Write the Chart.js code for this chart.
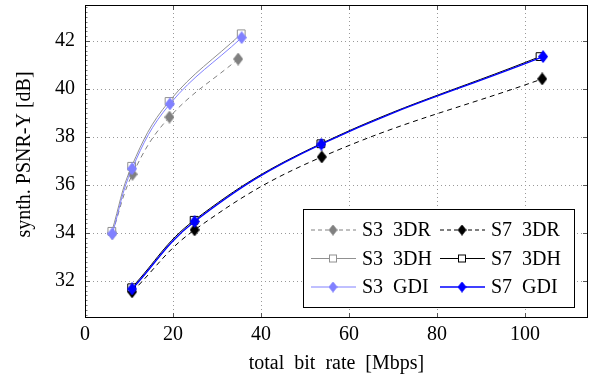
<!DOCTYPE html>
<html>
<head>
<meta charset="utf-8">
<script src="https://cdn.jsdelivr.net/npm/chart.js@4/dist/chart.umd.min.js"></script>
<style>
  html, body { margin: 0; padding: 0; background: #fff; }
  #wrap { width: 590px; height: 382px; }
</style>
</head>
<body>
<div id="wrap"><canvas id="chart"></canvas></div>
<script>
// values: bit rate (Mbps) and synthesized PSNR-Y (dB)
const s3Rate3DR = [6.2, 10.8, 19.2, 34.8];
const s3Psnr3DR = [34.0, 36.45, 38.83, 41.25];
const s3Rate3DH = [6.1, 10.6, 19.1, 35.5];
const s3Psnr3DH = [34.07, 36.78, 39.48, 42.3];
const s3RateGDI = [6.2, 10.7, 19.3, 35.6];
const s3PsnrGDI = [33.97, 36.68, 39.38, 42.14];
const s7Rate3DR = [10.7, 24.9, 53.8, 103.9];
const s7Psnr3DR = [31.55, 34.13, 37.17, 40.42];
const s7Rate3DH = [10.6, 24.8, 53.6, 103.4];
const s7Psnr3DH = [31.72, 34.53, 37.72, 41.35];
const s7RateGDI = [10.7, 24.9, 53.7, 104.1];
const s7PsnrGDI = [31.67, 34.48, 37.7, 41.35];

const xTicks = [0, 20, 40, 60, 80, 100];
const yTicks = [32, 34, 36, 38, 40, 42];

const serif = "'Liberation Serif', 'DejaVu Serif', serif";

function diamond(color, w, h) {
    const c = document.createElement("canvas");
    c.width = w;
    c.height = h;
    const g = c.getContext("2d");
    g.beginPath();
    g.moveTo(w / 2, 0);
    g.lineTo(w, h / 2);
    g.lineTo(w / 2, h);
    g.lineTo(0, h / 2);
    g.closePath();
    g.fillStyle = color;
    g.fill();
    return c;
}

function pts(xs, ys) {
    return xs.map((x, i) => ({ x: x, y: ys[i] }));
}

const series = [
    { label: "S3\u20023DR", xs: s3Rate3DR, ys: s3Psnr3DR, color: "#808080", dash: [5, 4], marker: "diamond", width: 1 },
    { label: "S7\u20023DR", xs: s7Rate3DR, ys: s7Psnr3DR, color: "#000000", dash: [5, 4], marker: "diamond", width: 1 },
    { label: "S3\u20023DH", xs: s3Rate3DH, ys: s3Psnr3DH, color: "#909090", dash: [], marker: "square", width: 1 },
    { label: "S7\u20023DH", xs: s7Rate3DH, ys: s7Psnr3DH, color: "#000000", dash: [], marker: "square", width: 1 },
    { label: "S3\u2002GDI", xs: s3RateGDI, ys: s3PsnrGDI, color: "#8080ff", dash: [], marker: "diamond", width: 1 },
    { label: "S7\u2002GDI", xs: s7RateGDI, ys: s7PsnrGDI, color: "#0000ff", dash: [], marker: "diamond", width: 1.4 },
];

const datasets = series.map((s, i) => {
    const ds = {
        label: s.label,
        data: pts(s.xs, s.ys),
        borderColor: s.color,
        borderWidth: s.width,
        borderDash: s.dash,
        tension: 0.4,
        fill: false,
        order: series.length - i,
    };
    if (s.marker === "diamond") {
        s.img = diamond(s.color, 10, 13);
        ds.pointStyle = s.img;
        ds.pointRadius = 6;
    } else {
        ds.pointStyle = "rect";
        ds.pointRadius = 5.5;
        ds.pointBackgroundColor = "#ffffff";
        ds.pointBorderColor = s.color;
        ds.pointBorderWidth = 1;
    }
    return ds;
});

// frame, inner tick marks and the boxed legend, pgfplots style
const framePlugin = {
    id: "frame",
    afterDatasetsDraw(chart) {
        const ctx = chart.ctx;
        const a = chart.chartArea;
        const xs = chart.scales.x;
        const ys = chart.scales.y;
        ctx.save();
        ctx.strokeStyle = "#777";
        ctx.lineWidth = 1;
        ctx.beginPath();
        for (let v = 30.6; v < ys.max; v += 0.2) {
            const py = Math.round(ys.getPixelForValue(v)) + 0.5;
            ctx.moveTo(a.left, py); ctx.lineTo(a.left + 2.5, py);
        }
        ctx.stroke();
        ctx.strokeStyle = "#555";
        ctx.beginPath();
        xTicks.forEach(v => {
            const px = Math.round(xs.getPixelForValue(v)) + 0.5;
            ctx.moveTo(px, a.bottom); ctx.lineTo(px, a.bottom - 5);
            ctx.moveTo(px, a.top); ctx.lineTo(px, a.top + 5);
        });
        yTicks.forEach(v => {
            const py = Math.round(ys.getPixelForValue(v)) + 0.5;
            ctx.moveTo(a.left, py); ctx.lineTo(a.left + 5, py);
            ctx.moveTo(a.right, py); ctx.lineTo(a.right - 5, py);
        });
        ctx.stroke();

        // legend box
        const bx = a.right - 285, by = a.bottom - 109, bw = 271, bh = 98;
        ctx.fillStyle = "#fff";
        ctx.fillRect(bx, by, bw, bh);
        ctx.strokeStyle = "#000";
        ctx.strokeRect(bx + 0.5, by + 0.5, bw, bh);
        ctx.font = "20px " + serif;
        ctx.textBaseline = "middle";
        series.forEach((s, i) => {
            const col = i % 2, row = Math.floor(i / 2);
            const lx = bx + 8 + col * 129;
            const ly = by + 21 + row * 28.5;
            ctx.strokeStyle = s.color;
            ctx.lineWidth = s.width;
            ctx.setLineDash(s.dash.length ? [4, 3] : []);
            ctx.beginPath();
            ctx.moveTo(lx, ly); ctx.lineTo(lx + 45, ly);
            ctx.stroke();
            ctx.setLineDash([]);
            const mx = lx + 22;
            if (s.marker === "diamond") {
                ctx.drawImage(s.img, mx - 4.5, ly - 5.5, 9, 11);
            } else {
                ctx.fillStyle = "#fff";
                ctx.fillRect(mx - 4, ly - 4, 8, 8);
                ctx.lineWidth = 1;
                ctx.strokeRect(mx - 3.5, ly - 3.5, 7, 7);
            }
            ctx.fillStyle = "#000";
            ctx.fillText(s.label, lx + 51, ly + 1);
        });

        ctx.strokeStyle = "#000";
        ctx.lineWidth = 1;
        ctx.strokeRect(a.left + 0.5, a.top + 0.5, a.right - a.left - 1, a.bottom - a.top - 1);
        ctx.restore();
    },
};

new Chart(document.getElementById("chart"), {
    type: "line",
    data: { datasets: datasets },
    options: {
        responsive: true,
        maintainAspectRatio: false,
        animation: false,
        layout: { autoPadding: false, padding: { top: 5, right: 2, left: 0, bottom: 0 } },
        plugins: {
            legend: { display: false },
            tooltip: { enabled: false },
        },
        scales: {
            x: {
                type: "linear",
                min: 0,
                max: 114.3,
                afterBuildTicks: s => { s.ticks = xTicks.map(v => ({ value: v })); },
                afterFit: s => { s.height = 64; s.paddingLeft = 0; s.paddingRight = 0; },
                ticks: { color: "#000", font: { family: serif, size: 20 }, padding: 5 },
                grid: { color: "#999", drawTicks: false },
                border: { display: false, dash: [1, 3] },
                title: { display: true, text: "total\u2002bit\u2002rate\u2002[Mbps]", color: "#000", font: { family: serif, size: 20 }, padding: { top: 0, bottom: 6 } },
            },
            y: {
                type: "linear",
                min: 30.46,
                max: 43.5,
                afterBuildTicks: s => { s.ticks = yTicks.map(v => ({ value: v })); },
                afterFit: s => { s.width = 85; s.paddingTop = 0; s.paddingBottom = 0; },
                ticks: { color: "#000", font: { family: serif, size: 20 }, padding: 10 },
                grid: { color: "#999", drawTicks: false },
                border: { display: false, dash: [1, 3] },
                title: { display: true, text: "\u2002\u2009synth. PSNR-Y [dB]", color: "#000", font: { family: serif, size: 20 }, padding: { top: 13, bottom: 0 } },
            },
        },
    },
    plugins: [framePlugin],
});
</script>
</body>
</html>
